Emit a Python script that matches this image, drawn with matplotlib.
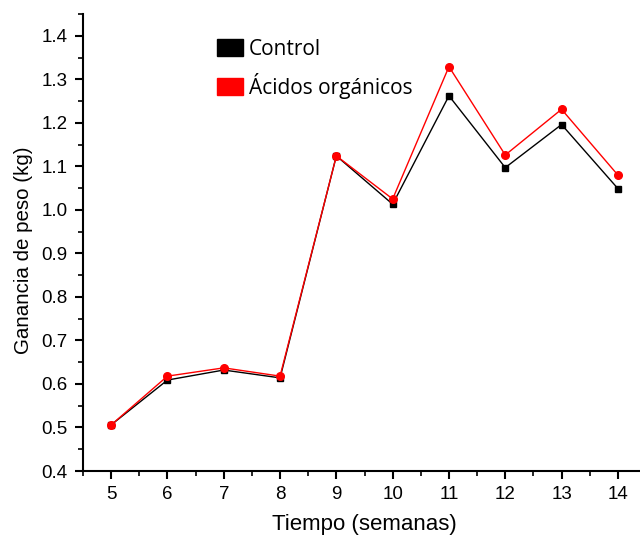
import matplotlib.pyplot as plt
from matplotlib.patches import Patch
from matplotlib.ticker import MultipleLocator

# weeks and weight gain (kg)
semanas = [5, 6, 7, 8, 9, 10, 11, 12, 13, 14]
control = [0.506, 0.609, 0.632, 0.614, 1.124, 1.013, 1.262, 1.097, 1.196, 1.049]
acidos = [0.506, 0.618, 0.637, 0.618, 1.124, 1.025, 1.329, 1.126, 1.231, 1.080]

plt.rcParams['font.family'] = ['Liberation Sans', 'DejaVu Sans']

fig = plt.figure(figsize=(6.4, 5.38), dpi=100)
ax = fig.add_axes([0.1297, 0.1245, 0.8797, 0.8495])

ax.plot(semanas, control, color='black', lw=1, marker='s', ms=5, zorder=3)
ax.plot(semanas, acidos, color='red', lw=1, marker='o', ms=5.5, zorder=4)

ax.set_xlim(4.5, 14.5)
ax.set_ylim(0.4, 1.45)
ax.xaxis.set_major_locator(MultipleLocator(1))
ax.xaxis.set_minor_locator(MultipleLocator(0.5))
ax.yaxis.set_major_locator(MultipleLocator(0.1))
ax.yaxis.set_minor_locator(MultipleLocator(0.05))
ax.yaxis.set_major_formatter(plt.FormatStrFormatter('%.1f'))

for s in ['top', 'right']:
    ax.spines[s].set_visible(False)
for s in ['left', 'bottom']:
    ax.spines[s].set_linewidth(1.5)
ax.tick_params(which='major', direction='out', length=6, width=1.5, labelsize=13.5, pad=5)
ax.tick_params(which='minor', direction='out', length=3.5, width=1.2)

ax.set_xlabel('Tiempo (semanas)', fontsize=16, labelpad=8)
ax.set_ylabel('Ganancia de peso (kg)', fontsize=14.8)
ax.yaxis.set_label_coords(-0.089, 0.484)

handles = [Patch(facecolor='black', edgecolor='black', label='Control'),
           Patch(facecolor='red', edgecolor='red', label='Ácidos orgánicos')]
ax.legend(handles=handles, loc='upper left', bbox_to_anchor=(0.204, 0.987),
          frameon=False, prop={'family': 'Open Sans', 'size': 15},
          handlelength=1.25, handleheight=0.85, handletextpad=0.3, labelspacing=0.62)

fig.savefig('out.png', dpi=100)
